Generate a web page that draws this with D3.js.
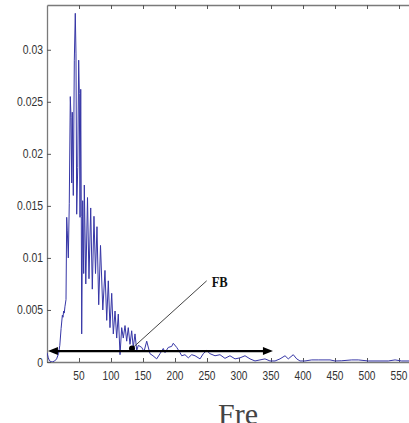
<!DOCTYPE html>
<html><head><meta charset="utf-8">
<script src="https://cdn.jsdelivr.net/npm/d3@7"></script>
<style>html,body{margin:0;padding:0;background:#fff;overflow:hidden}</style>
</head><body>
<script>
// ---- data ----
const freq = [0,2,4,8,12,15,18,20,22,24,25,26,27,28,29.7,
  30.8,31.7,33.3,34.8,36.4,37.5,38.6,39.5,41.1,42.7,44.2,45.3,46.4,48.0,49.5,50.5,51.6,52.7,53.6,54.2,55.8,57.3,58.3,
  60.6,63.3,65.6,68.3,70.8,73.4,75.8,78.1,80.8,83.6,87.2,90.6,93.3,95.8,98.4,101.1,103.6,106.3,108.9,111.4,114.1,
  116.7,119.2,121.9,124.5,127.0,129.7,132.3,134.8,137.5,140.2,142.7,148.0,151.6,155.8,160.9,165.6,171.4,176.6,
  181.7,184.4,189.5,194.8,197.3,202.7,207.8,210.5,215.6,220.8,226.1,231.3,239.1,244.2,249.5,254.7,262.5,270.3,
  278.1,285.9,293.8,301.6,309.4,317.2,325,332.8,340.6,348.4,356.3,364.1,371.9,377,384.8,390.2,395.3,403.1,413.6,
  423.9,442.2,450,460.5,476.1,486.4,502,512.5,533.3,543.8,554.2,566,600];
const amp = [0.0009,0.0004,0.0001,0.0000,0.0001,0.0003,0.0008,0.0016,0.0032,0.0045,0.0043,0.0049,0.0047,0.0053,0.0060,
  0.0139,0.0126,0.0100,0.0152,0.0255,0.0235,0.0172,0.0240,0.0160,0.0290,0.0335,0.0296,0.0142,0.0187,0.0290,0.0258,0.0139,0.0262,0.0140,0.0027,0.0155,0.0085,0.0170,
  0.0075,0.0158,0.0080,0.0148,0.0070,0.0140,0.0085,0.0130,0.0055,0.0112,0.0050,0.0088,0.0040,0.0078,0.0033,0.0066,0.0027,0.0049,0.0023,0.0046,0.0007,
  0.0033,0.0023,0.0035,0.0020,0.0033,0.0017,0.0030,0.0014,0.0027,0.0011,0.0016,0.0014,0.0010,0.0020,0.0008,0.0006,0.0003,0.0008,
  0.0013,0.0009,0.0014,0.0015,0.0018,0.0014,0.0009,0.0006,0.0007,0.0004,0.0007,0.0006,0.0003,0.0008,0.0011,0.0008,0.0006,0.0007,
  0.00035,0.0006,0.0003,0.0004,0.0006,0.0003,0.0001,0.0002,0.0003,0.0001,0.0001,0.0003,0.0006,0.0003,0.0007,0.0003,0.0001,0.0001,0.0002,
  0.0002,0.0002,0.0001,0.00012,0.0002,0.0002,0.0001,0.0001,0.0001,0.0002,0.0001,0.0001,0.0001];
const xTicks = [50,100,150,200,250,300,350,400,450,500,550,600];
const yTicks = [0,0.005,0.01,0.015,0.02,0.025,0.03];
const yTickLabels = ["0","0.005","0.01","0.015","0.02","0.025","0.03"];
const arrowRange = [1.5, 353];
const arrowLevel = 0.00105;
const markerPoint = [132.8, 0.0013];
const labelPoint = [249.5, 0.0078];
const annotationText = "FB";
const xLabelText = "Fre";

// ---- drawing ----
const W = 409, H = 423;
const svg = d3.select("body").append("svg").attr("width", W).attr("height", H);
const x = d3.scaleLinear().domain([0, 600]).range([47, 431]);
const y = d3.scaleLinear().domain([0, 0.0343]).range([362, 5]);
const axisColor = "#7a7a7a";
const font = "'Liberation Sans', Arial, sans-serif";

svg.append("defs").append("clipPath").attr("id","plot")
  .append("rect").attr("x",x(0)).attr("y",y(0.0343)).attr("width",x(600)-x(0)).attr("height",y(0)-y(0.0343));

// bottom axis (ticks inward)
const gx = svg.append("g").attr("transform",`translate(0,${y(0)})`)
  .call(d3.axisBottom(x).tickValues(xTicks).tickSizeInner(-4).tickSizeOuter(0).tickFormat(""));
// top axis
const gt = svg.append("g").attr("transform",`translate(0,${y(0.0343)})`)
  .call(d3.axisTop(x).tickValues(xTicks).tickSizeInner(-4).tickSizeOuter(0).tickFormat(""));
// left axis
const gy = svg.append("g").attr("transform",`translate(${x(0)},0)`)
  .call(d3.axisLeft(y).tickValues(yTicks).tickSizeInner(-4).tickSizeOuter(0).tickFormat(""));
[gx,gt,gy].forEach(g=>{
  g.selectAll("path").attr("stroke",axisColor).attr("stroke-width",1.3);
  g.selectAll("line").attr("stroke","#555").attr("stroke-width",1);
});

// tick labels (condensed look)
xTicks.forEach(t=>{
  svg.append("text").attr("transform",`translate(${x(t)},${y(0)+18}) scale(0.78,1)`)
    .attr("text-anchor","middle").attr("font-family",font).attr("font-size",13).attr("fill","#333").text(t);
});
yTicks.forEach((t,i)=>{
  svg.append("text").attr("transform",`translate(${x(0)-4},${y(t)+4.5}) scale(0.8,1)`)
    .attr("text-anchor","end").attr("font-family",font).attr("font-size",13).attr("fill","#333").text(yTickLabels[i]);
});

// spectrum line
const pts = freq.map((f,i)=>[f, amp[i]]);
svg.append("path").datum(pts).attr("clip-path","url(#plot)")
  .attr("fill","none").attr("stroke","#3636a6").attr("stroke-width",1)
  .attr("d", d3.line().x(d=>x(d[0])).y(d=>y(d[1])));

// double-headed arrow
const ay = y(arrowLevel), ax0 = x(arrowRange[0]), ax1 = x(arrowRange[1]);
svg.append("line").attr("x1",ax0+8).attr("x2",ax1-8).attr("y1",ay).attr("y2",ay)
  .attr("stroke","#000").attr("stroke-width",2.2);
svg.append("path").attr("d",`M${ax0},${ay} L${ax0+10},${ay-4} L${ax0+10},${ay+4} Z`).attr("fill","#000");
svg.append("path").attr("d",`M${ax1},${ay} L${ax1-10},${ay-4} L${ax1-10},${ay+4} Z`).attr("fill","#000");

// annotation
svg.append("line").attr("x1",x(markerPoint[0])).attr("y1",y(markerPoint[1]))
  .attr("x2",x(labelPoint[0])).attr("y2",y(labelPoint[1])).attr("stroke","#444").attr("stroke-width",1);
svg.append("circle").attr("cx",x(markerPoint[0])).attr("cy",y(markerPoint[1])).attr("r",3).attr("fill","#000");
svg.append("text").attr("x",x(labelPoint[0])+5).attr("y",y(labelPoint[1])+6)
  .attr("font-family","'Liberation Serif', 'Times New Roman', serif").attr("font-weight","bold")
  .attr("font-size",14).attr("fill","#111").attr("textLength",16).attr("lengthAdjust","spacingAndGlyphs")
  .text(annotationText);

// x label (cut off by the image bottom)
svg.append("text").attr("x",218).attr("y",424)
  .attr("font-family","'Liberation Serif', 'Times New Roman', serif")
  .attr("font-size",30).attr("fill","#444").text(xLabelText);
</script>
</body></html>
